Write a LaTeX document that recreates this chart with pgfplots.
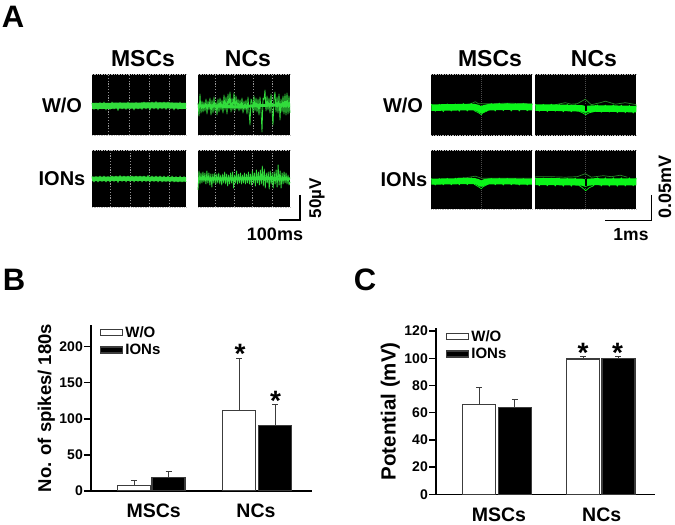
\documentclass[border=0pt]{standalone}
\usepackage{pgfplots}
\pgfplotsset{compat=1.18}
\usepackage{fontspec}
\setmainfont{Liberation Sans}
\definecolor{trgreen}{RGB}{50,220,60}
\definecolor{brgreen}{RGB}{10,245,25}
\definecolor{dkgreen}{RGB}{40,130,40}
\definecolor{barline}{RGB}{60,60,60}
\newcommand{\fs}[1]{\fontsize{#1}{#1}\selectfont\bfseries}
\pgfplotsset{
  panel/.style={scale only axis, clip=false, xmin=0, ymin=-30, ymax=30,
    axis background/.style={fill=black},
    axis line style={draw=none}, major tick length=0pt, tick style={draw=none},
    xmajorgrids, grid style={dash pattern=on 1.2pt off 1.6pt, color=white!58!black, line width=0.7pt},
    xticklabels={}, ytick=\empty,
    after end axis/.code={\draw[densely dotted, white!75!black, line width=0.7pt] (rel axis cs:0,0)--(rel axis cs:1,0) (rel axis cs:0,1)--(rel axis cs:1,1);}},
  rpanel/.style={panel, grid style={dash pattern=on 0.8pt off 1.2pt, color=white!30!black, line width=0.5pt}},
  barax/.style={scale only axis, ybar, ymin=0, axis lines=left, axis line style={-, line width=1.4pt, black},
    tick align=outside, major tick length=7pt, xmin=0,
    y tick style={line width=1.4pt, black}, x tick style={draw=none},
    /pgf/number format/assume math mode=true,
    y tick label style={font=\fs{14}, inner sep=1pt},
    x tick label style={font=\fs{19.5}},
    ylabel style={font=\fs{18.5}},
    legend style={draw=none, fill=none, font=\fs{15}, row sep=1.2pt, inner sep=0pt},
    legend cell align=left,
    legend image code/.code={\draw[line width=1.2pt,#1] (0pt,-3pt) rectangle (22pt,3pt);},
    bar width=33pt},
  wbar/.style={bar shift=0pt, draw=barline, fill=white, line width=1.2pt,
    error bars/.cd, y dir=plus, y explicit, error bar style={line width=1pt,barline}, error mark options={line width=1pt, barline, mark size=3pt, rotate=90}},
  bbar/.style={bar shift=0pt, draw=barline, fill=black, line width=1.2pt,
    error bars/.cd, y dir=plus, y explicit, error bar style={line width=1pt,barline}, error mark options={line width=1pt, barline, mark size=3pt, rotate=90}},
  tr/.style={trgreen, line width=0.8pt, line join=round},
  br/.style={brgreen, line width=1pt, line join=round},
}
\begin{document}
\begin{tikzpicture}[x=1pt,y=1pt]
\path[use as bounding box, fill=white] (0pt,0pt) rectangle (675pt,525pt);
% panel letters
\node[font=\fs{31}, anchor=center] at (13pt,508pt) {A};
\node[font=\fs{31}, anchor=center] at (14pt,245pt) {B};
\node[font=\fs{31}, anchor=center] at (365pt,245pt) {C};
% Titles, panel A left
\node[font=\fs{23}] at (143pt,466pt) {MSCs};
\node[font=\fs{23}] at (248pt,466pt) {NCs};
\node[font=\fs{20}] at (62pt,420pt) {W/O};
\node[font=\fs{20}] at (62pt,346pt) {IONs};
% Titles, panel A right
\node[font=\fs{23}] at (490pt,466pt) {MSCs};
\node[font=\fs{23}] at (594pt,466pt) {NCs};
\node[font=\fs{20}] at (403pt,420pt) {W/O};
\node[font=\fs{20}] at (404pt,345pt) {IONs};
% scale bars
\draw[line width=1.4pt, black] (300pt,330pt)--(300pt,305pt)--(279pt,305pt);
\node[font=\fs{17}, rotate=90] at (317pt,327pt) {50µV};
\node[font=\fs{18}] at (275pt,291pt) {100ms};
\draw[line width=1.4pt, black] (651.7pt,330pt)--(651.7pt,304.5pt)--(605pt,304.5pt);
\node[font=\fs{18}, rotate=90] at (665pt,338pt) {0.05mV};
\node[font=\fs{17.5}] at (631pt,290pt) {1ms};

% A left MSCs W/O
\begin{axis}[panel, at={(92pt,390pt)}, anchor=south west, width=94pt, height=61pt, xmax=94, ymin=-29, ymax=32, xtick={16.7,37.3,57,77}]
\addplot[trgreen, line width=6pt] coordinates {(0,0) (25,0.3) (50,0.5) (75,0.6) (94,0)};
\addplot[tr] coordinates {(0,3)(2,-3.5)(4,3)(6,-4)(8,3.5)(10,-3)(12,4)(14,-4)(16,3)(18,-3.5)(20,4)(22,-3)(24,3)(26,-4.5)(28,3.5)(30,-3)(32,3)(34,-3.5)(36,4)(38,-3)(40,3)(42,-4)(44,3.5)(46,-3)(48,3)(50,-3.5)(52,4)(54,-3)(56,3.5)(58,-4)(60,4)(62,-3)(64,4.5)(66,-3.5)(68,3.5)(70,-3)(72,4)(74,-3.5)(76,4)(78,-3)(80,3.5)(82,-4)(84,3)(86,-3.5)(88,4)(90,-3)(92,3)(94,-3)};
\end{axis}
% A left NCs W/O
\begin{axis}[panel, at={(198pt,390pt)}, anchor=south west, width=92pt, height=61pt, xmax=92, ymin=-29, ymax=32, xtick={17.7,36.3,55.3,74}]
\addplot[trgreen, line width=3pt] coordinates {(0,0) (20,0) (40,-1) (60,0.5) (80,1) (92,1)};
\addplot[tr] coordinates {(0,3)(1,-10)(2,12)(3,-7)(4,5)(5,-6)(6,4)(7,-5)(8,7)(9,-8)(10,5)(11,-4)(12,8)(13,-9)(14,6)(15,-7)(16,9)(17,-5)(18,4)(19,-9)(20,7)(21,-6)(22,8)(23,-4)(24,6)(25,-7)(26,11)(27,-4)(28,9)(29,-8)(30,12)(31,-3)(32,14)(33,-6)(34,8)(35,-4)(36,13)(37,-5)(38,10)(39,-3)(40,7)(41,-5)(42,6)(43,-4)(44,8)(45,-7)(46,5)(47,-4)(48,6)(49,-8)(50,9)(51,-5)(52,-19)(53,7)(54,5)(55,-7)(56,10)(57,-5)(58,8)(59,-6)(60,7)(61,-9)(62,9)(63,-4)(64,-26)(65,8)(66,6)(67,16)(68,-5)(69,10)(70,-4)(71,8)(72,-7)(73,12)(74,-5)(75,-19)(76,7)(77,14)(78,-6)(79,9)(80,-7)(81,12)(82,-14)(83,7)(84,-6)(85,10)(86,-8)(87,12)(88,-9)(89,13)(90,-8)(91,10)(92,-7)};
\end{axis}
% A left MSCs IONs
\begin{axis}[panel, at={(92pt,318pt)}, anchor=south west, width=94pt, height=57pt, xmax=94, ymin=-28, ymax=29, xtick={18.7,38,57,77}]
\addplot[trgreen, line width=4.5pt] coordinates {(0,0) (30,0.4) (60,0.2) (94,-0.5)};
\addplot[tr] coordinates {(0,2.5)(2,-3)(4,2.5)(6,-3)(8,3)(10,-2.5)(12,3)(14,-3)(16,2.5)(18,-3)(20,3)(22,-2.5)(24,3)(26,-3.5)(28,3.5)(30,-2.5)(32,3)(34,-3)(36,3)(38,-2.5)(40,3)(42,-3)(44,3)(46,-2.5)(48,3)(50,-3)(52,3)(54,-2.5)(56,3.5)(58,-3)(60,3)(62,-2.5)(64,3)(66,-3)(68,3)(70,-3)(72,3)(74,-2.5)(76,3)(78,-3)(80,3)(82,-3)(84,2.5)(86,-3)(88,3)(90,-3)(92,2.5)(94,-3)};
\end{axis}
% A left NCs IONs
\begin{axis}[panel, at={(198pt,318pt)}, anchor=south west, width=92pt, height=57pt, xmax=93, ymin=-28, ymax=29, xtick={17.7,36.3,55.3,74.7}]
\addplot[trgreen, line width=3pt] coordinates {(0,0) (30,0) (60,0.5) (93,0)};
\addplot[tr] coordinates {(0,-11)(1,8)(2,-5)(3,6)(4,-4)(5,7)(6,-3)(7,6)(8,-5)(9,8)(10,-4)(11,6)(12,-6)(13,5)(14,-8)(15,5)(16,-4)(17,6)(18,-5)(19,5)(20,-4)(21,6)(22,-5)(23,4)(24,-6)(25,5)(26,-4)(27,7)(28,-5)(29,5)(30,-7)(31,4)(32,-5)(33,6)(34,-4)(35,7)(36,-9)(37,4)(38,-4)(39,8)(40,-5)(41,5)(42,-4)(43,6)(44,-5)(45,4)(46,-4)(47,6)(48,-5)(49,5)(50,-4)(51,7)(52,-5)(53,5)(54,-6)(55,8)(56,-4)(57,6)(58,-7)(59,9)(60,-4)(61,7)(62,-6)(63,9)(64,-5)(65,13)(66,-7)(67,10)(68,-9)(69,6)(70,-4)(71,7)(72,-10)(73,8)(74,-5)(75,6)(76,-9)(77,7)(78,-5)(79,9)(80,-8)(81,14)(82,-6)(83,8)(84,-9)(85,6)(86,-5)(87,7)(88,-4)(89,6)(90,-5)(91,4)(92,-6)(93,-3)};
\end{axis}

% A right MSCs W/O
\begin{axis}[rpanel, at={(431.3pt,389.3pt)}, anchor=south west, width=101pt, height=61.4pt, xmax=101, ymin=-28, ymax=33.4, xtick={49.7}]
\addplot[dkgreen, line width=0.7pt] coordinates {(30,2.5)(40,4)(44,6)(47,4)(60,4)(75,4.5)(101,4)};
\addplot[brgreen, line width=6.5pt, line join=round] coordinates {(0,0)(15,0.3)(30,0.5)(43,0.7)(47,-0.5)(50,-2.5)(53,-0.5)(58,0.5)(75,1)(101,0.6)};
\addplot[br, line width=0.7pt] coordinates {(0,3.6)(4,-3.6)(8,3.4)(12,-4)(16,3.8)(20,-3.4)(24,3.8)(28,-3.6)(32,4.2)(36,-3.4)(40,4.4)(43,-3)(47,-5)(50,-7)(52,-5)(56,-3.2)(60,4.2)(64,-3.4)(68,4.6)(72,-3)(76,4.4)(80,-3.4)(84,4.2)(88,-3.4)(92,4.4)(96,-3.2)(101,3.8)};
\end{axis}
% A right NCs W/O
\begin{axis}[rpanel, at={(535.3pt,389.3pt)}, anchor=south west, width=101pt, height=61.4pt, xmax=101, ymin=-28, ymax=33.4, xtick={50.4}]
\addplot[dkgreen, line width=0.7pt] coordinates {(20,3)(30,5)(36,3.5)(42,4)(50,8.5)(56,3)(65,5)(70,6.5)(80,3.5)(90,5)(101,3)};
\addplot[brgreen, line width=6.5pt, line join=round] coordinates {(0,0)(20,0)(40,-0.5)(47,-0.8)(50,-2)(53,-1.2)(60,-0.8)(80,-1)(101,-1.5)};
\addplot[br, line width=0.7pt] coordinates {(0,3.6)(4,-3.6)(8,3.4)(12,-4)(16,3.6)(20,-3.6)(24,3.2)(28,-4.2)(32,3.2)(36,-4.2)(40,3)(44,-3.8)(47,-5)(50.4,-7)(54,-5)(58,-4.2)(62,2.8)(66,-4.6)(70,2.6)(74,-4.4)(78,2.8)(82,-5)(86,2.6)(90,-5)(94,2.4)(98,-5.4)(101,2.2)};
\addplot[black, line width=2pt] coordinates {(50.4,-3.5) (50.4,3)};
\end{axis}
% A right MSCs IONs
\begin{axis}[rpanel, at={(431.3pt,316pt)}, anchor=south west, width=100.5pt, height=59pt, xmax=100.5, ymin=-27.3, ymax=31.7, xtick={49.7}]
\addplot[dkgreen, line width=0.7pt] coordinates {(25,3.5)(35,4)(44,5.5)(50,3.5)(100.5,3.5)};
\addplot[brgreen, line width=6pt, line join=round] coordinates {(0,0)(15,0.3)(30,0.5)(43,0.7)(47,-0.5)(50,-2.5)(53,-0.5)(58,0.3)(75,0.3)(100.5,0)};
\addplot[br, line width=0.7pt] coordinates {(0,3.2)(4,-3.4)(8,3.2)(12,-3.2)(16,3.4)(20,-3.2)(24,3.6)(28,-3.2)(32,3.8)(36,-3)(40,4)(43,-2.6)(47,-5)(50,-7)(52,-5)(56,-3)(60,3.4)(64,-3.2)(68,3.6)(72,-3.4)(76,3.4)(80,-3.2)(84,3.2)(88,-3.4)(92,3.2)(96,-3.4)(100.5,3)};
\end{axis}
% A right NCs IONs
\begin{axis}[rpanel, at={(535.3pt,316pt)}, anchor=south west, width=101pt, height=59pt, xmax=101, ymin=-27.3, ymax=31.7, xtick={50.4}]
\addplot[dkgreen, line width=0.7pt] coordinates {(0,5)(15,5)(30,4.5)(42,5)(50,8)(56,4.5)(68,6)(76,5)(85,6.5)(92,4.5)};
\addplot[brgreen, line width=7pt, line join=round] coordinates {(0,0)(20,0)(40,-0.3)(47,-0.5)(50,-1.5)(53,-0.5)(60,0)(80,-0.3)(101,-0.3)};
\addplot[br, line width=0.7pt] coordinates {(0,4)(4,-4.2)(8,3.8)(12,-4.2)(16,3.6)(20,-4.4)(24,3.6)(28,-4.6)(32,3.6)(36,-4.6)(40,3.6)(44,-4)(47,-6)(50.4,-9)(54,-6)(58,-4.2)(62,4)(66,-4.4)(70,4)(74,-4.6)(78,4)(82,-4.6)(86,4)(90,-4.4)(94,4)(98,-4.2)(101,3.8)};
\addplot[black, line width=2pt] coordinates {(50.4,-4) (50.4,2.5)};
\end{axis}

% B
\begin{axis}[barax, at={(91pt,34pt)}, anchor=south west, width=221pt, height=166pt,
  xmax=221, ymax=230, ytick={0,50,100,150,200}, xtick={62.7,165}, xticklabels={MSCs,NCs},
  x tick label style={yshift=-2pt},
  ylabel={No. of spikes/ 180s},
  legend style={at={(axis cs:9,231)}, anchor=north west}]
\addplot[wbar] coordinates {(43,8) +- (0,6)  (148,112) +- (0,72)};
\addplot[bbar] coordinates {(77.5,19) +- (0,8)  (184,91) +- (0,29)};
\legend{W/O,IONs}
\node[font=\fs{28}] at (axis cs:149,190) {*};
\node[font=\fs{28}] at (axis cs:184.5,125) {*};
\end{axis}

% C
\begin{axis}[barax, at={(436pt,30.7pt)}, anchor=south west, width=219pt, height=166pt,
  xmax=219, ymax=122, ytick={0,20,40,60,80,100,120}, xtick={63,165.7}, xticklabels={MSCs,NCs},
  x tick label style={yshift=-3pt},
  ylabel={Potential (mV)}, ylabel style={font=\fs{20.5}},
  legend style={at={(axis cs:10,122)}, anchor=north west}]
\addplot[wbar] coordinates {(43,66) +- (0,12.5)  (147,99.5) +- (0,1.5)};
\addplot[bbar] coordinates {(78.8,64) +- (0,6)  (182.4,99.7) +- (0,1.3)};
\legend{W/O,IONs}
\node[font=\fs{28}] at (axis cs:147,104) {*};
\node[font=\fs{28}] at (axis cs:181.5,104) {*};
\end{axis}
\end{tikzpicture}
\end{document}
